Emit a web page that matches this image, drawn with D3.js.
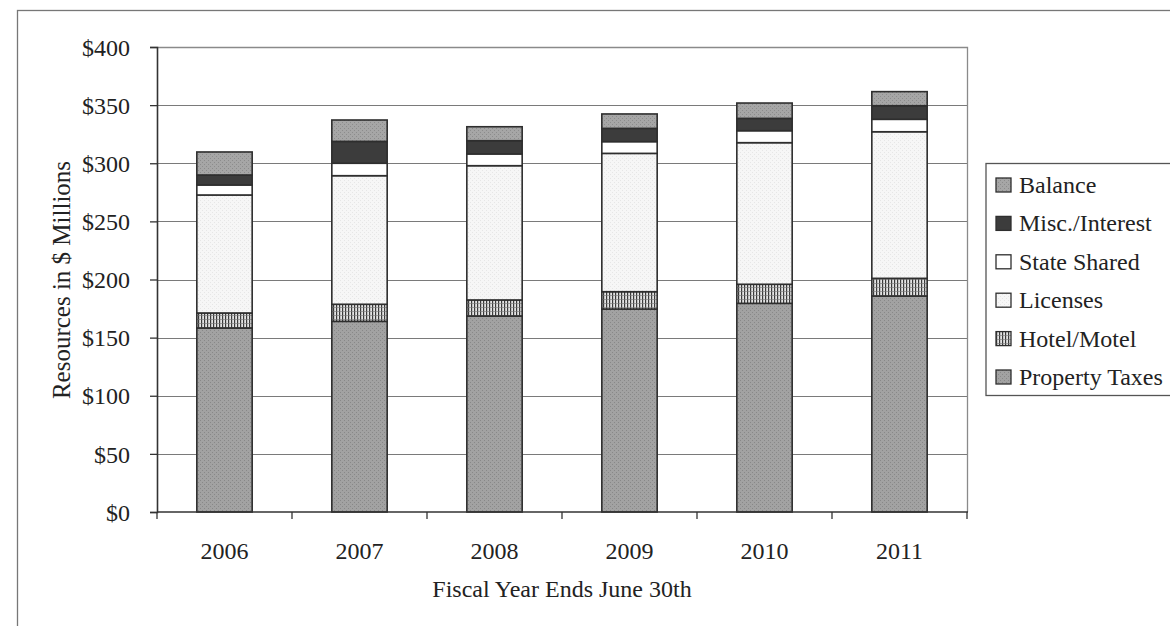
<!DOCTYPE html>
<html>
<head>
<meta charset="utf-8">
<script src="https://cdn.jsdelivr.net/npm/d3@7"></script>
<style>
  html, body { margin: 0; padding: 0; background: #fff; }
  svg { display: block; font-family: "Liberation Serif", "Times New Roman", serif; }
</style>
</head>
<body>
<svg id="chart" width="1170" height="626"></svg>
<script>
// Fiscal years on the x axis
const years = ["2006", "2007", "2008", "2009", "2010", "2011"];

// Resources by source, $ millions (stacked bottom to top)
const propertyTaxes = [158.3, 164.0, 168.6, 174.6, 179.5, 185.8];
const hotelMotel    = [12.9, 14.7, 13.8, 14.9, 16.4, 15.2];
const licenses      = [101.5, 110.6, 115.5, 119.0, 121.8, 126.1];
const stateShared   = [8.6, 10.7, 10.1, 10.1, 10.3, 10.7];
const miscInterest  = [8.6, 18.8, 11.4, 11.4, 10.6, 11.7];
const balance       = [19.8, 18.4, 12.0, 12.4, 13.2, 12.1];

// Y axis ticks
const yTicks = [0, 50, 100, 150, 200, 250, 300, 350, 400];

const seriesNames = ["Property Taxes", "Hotel/Motel", "Licenses", "State Shared", "Misc./Interest", "Balance"];
const seriesValues = [propertyTaxes, hotelMotel, licenses, stateShared, miscInterest, balance];

const rows = years.map((y, i) => {
  const r = { year: y };
  seriesNames.forEach((n, k) => { r[n] = seriesValues[k][i]; });
  return r;
});

const FONT = 24;
const svg = d3.select("#chart");
const defs = svg.append("defs");

// Vertical hatching for Hotel/Motel
const hatch = defs.append("pattern").attr("id", "hatch")
  .attr("patternUnits", "userSpaceOnUse").attr("width", 3).attr("height", 4);
hatch.append("rect").attr("width", 3).attr("height", 4).attr("fill", "#e4e4e4");
hatch.append("rect").attr("x", 0).attr("width", 1.2).attr("height", 4).attr("fill", "#3a3a3a");
hatch.append("rect").attr("x", 0).attr("y", 3).attr("width", 3).attr("height", 0.6).attr("fill", "#777");

// Fine stipple for the gray fills
function stipple(id, base, dot) {
  const p = defs.append("pattern").attr("id", id)
    .attr("patternUnits", "userSpaceOnUse").attr("width", 4).attr("height", 4);
  p.append("rect").attr("width", 4).attr("height", 4).attr("fill", base);
  p.append("rect").attr("x", 0).attr("y", 0).attr("width", 1).attr("height", 1).attr("fill", dot);
  p.append("rect").attr("x", 2).attr("y", 2).attr("width", 1).attr("height", 1).attr("fill", dot);
}
stipple("grayBal", "#a6a6a6", "#8c8c8c");
stipple("grayProp", "#a2a2a2", "#888888");
stipple("lightLic", "#f6f6f6", "#e6e6e6");

const fills = {
  "Property Taxes": "url(#grayProp)",
  "Hotel/Motel": "url(#hatch)",
  "Licenses": "url(#lightLic)",
  "State Shared": "#ffffff",
  "Misc./Interest": "#3c3c3c",
  "Balance": "url(#grayBal)"
};

// Outer chart border
svg.append("rect").attr("x", 17.5).attr("y", 10.5).attr("width", 1160).attr("height", 630)
  .attr("fill", "none").attr("stroke", "#777").attr("stroke-width", 1.3);

const plot = { left: 157, right: 967, top: 47, bottom: 512 };

const x = d3.scaleBand().domain(years).range([plot.left, plot.right])
  .paddingInner(0.59).paddingOuter(0.295);
const y = d3.scaleLinear().domain([0, 400]).range([plot.bottom, plot.top]);

// Gridlines
svg.append("g").selectAll("line").data(yTicks.filter(t => t > 0 && t < 400)).join("line")
  .attr("x1", plot.left).attr("x2", plot.right)
  .attr("y1", d => Math.round(y(d)) + 0.5).attr("y2", d => Math.round(y(d)) + 0.5)
  .attr("stroke", "#7a7a7a").attr("stroke-width", 1.2);

// Plot area frame (top and right)
svg.append("path")
  .attr("d", `M${plot.left},${plot.top + 0.5}H${plot.right + 0.5}V${plot.bottom}`)
  .attr("fill", "none").attr("stroke", "#8a8a8a").attr("stroke-width", 1.3);

// Stacked bars
const stack = d3.stack().keys(seriesNames)(rows);
const barG = svg.append("g");
stack.forEach(layer => {
  barG.append("g").selectAll("rect").data(layer).join("rect")
    .attr("x", d => x(d.data.year))
    .attr("width", x.bandwidth())
    .attr("y", d => y(d[1]))
    .attr("height", d => y(d[0]) - y(d[1]))
    .attr("fill", fills[layer.key])
    .attr("stroke", "#2e2e2e").attr("stroke-width", 1.6);
});

// Y axis
const yAxis = svg.append("g").attr("transform", `translate(${plot.left},0)`)
  .call(d3.axisLeft(y).tickValues(yTicks).tickFormat(d => "$" + d).tickSize(7).tickPadding(20));
yAxis.select(".domain").attr("stroke", "#333").attr("stroke-width", 1.6);
yAxis.selectAll(".tick line").attr("stroke", "#333").attr("stroke-width", 1.3);
yAxis.selectAll("text").attr("font-family", "Liberation Serif").attr("font-size", FONT)
  .attr("fill", "#222").attr("dy", "0.34em");

// X axis: ticks sit on the category boundaries
const xAxis = svg.append("g").attr("transform", `translate(0,${plot.bottom})`);
xAxis.append("line").attr("x1", plot.left).attr("x2", plot.right + 1)
  .attr("stroke", "#333").attr("stroke-width", 1.6);
const step = x.step();
xAxis.selectAll("line.tk").data(d3.range(years.length + 1)).join("line").attr("class", "tk")
  .attr("x1", i => plot.left + i * step).attr("x2", i => plot.left + i * step)
  .attr("y1", 0).attr("y2", 7).attr("stroke", "#333").attr("stroke-width", 1.3);
xAxis.selectAll("text").data(years).join("text")
  .attr("x", d => x(d) + x.bandwidth() / 2).attr("y", 47)
  .attr("text-anchor", "middle").attr("font-size", FONT).attr("fill", "#222")
  .text(d => d);

// Axis titles
svg.append("text").attr("x", 562).attr("y", 597).attr("text-anchor", "middle")
  .attr("font-size", FONT).attr("fill", "#222").text("Fiscal Year Ends June 30th");
svg.append("text").attr("transform", "translate(70,280) rotate(-90)").attr("text-anchor", "middle")
  .attr("font-size", 25).attr("fill", "#222").text("Resources in $ Millions");

// Legend (top series listed first)
const legendG = svg.append("g");
legendG.append("rect").attr("x", 986).attr("y", 163.5).attr("width", 200).attr("height", 232)
  .attr("fill", "#fff").attr("stroke", "#555").attr("stroke-width", 1.3);
const legendItems = seriesNames.slice().reverse();
legendItems.forEach((name, i) => {
  const cy = 185 + i * 38.4;
  legendG.append("rect").attr("x", 996).attr("y", cy - 7).attr("width", 15).attr("height", 14)
    .attr("fill", fills[name]).attr("stroke", "#2e2e2e").attr("stroke-width", 1.3);
  legendG.append("text").attr("x", 1019).attr("y", cy + 8)
    .attr("font-size", FONT).attr("fill", "#222").text(name);
});
</script>
</body>
</html>
